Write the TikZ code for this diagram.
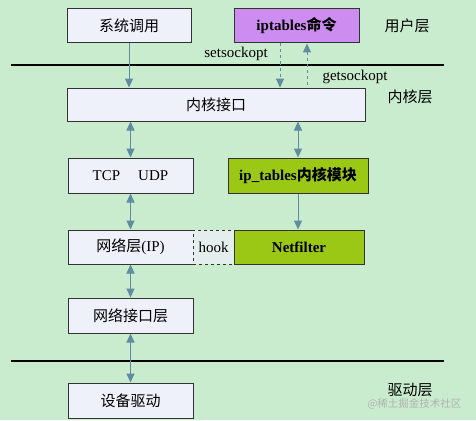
\documentclass[tikz,border=0pt]{standalone}
\usepackage{fontspec}
\setmainfont{Liberation Serif}
\newfontfamily\cjk{Noto Sans CJK SC}
\usetikzlibrary{arrows.meta}
\tikzset{>={Triangle[length=9pt,width=8pt]}}
\definecolor{bggreen}{RGB}{200,236,205}
\definecolor{boxfill}{RGB}{238,241,250}
\definecolor{hookfill}{RGB}{228,238,236}
\definecolor{cmdpurple}{RGB}{204,140,240}
\definecolor{modgreen}{RGB}{155,200,20}
\definecolor{arrowblue}{RGB}{95,140,160}
\tikzset{
  box/.style={draw=black!80, fill=boxfill, line width=1pt, inner sep=0pt,
    minimum width=125pt, minimum height=34pt, font=\fontsize{15}{18}\selectfont},
  flow/.style={draw=arrowblue, line width=1pt},
  layer/.style={font=\fontsize{15}{18}\selectfont\cjk},
  call/.style={font=\fontsize{15}{18}\selectfont},
  sep/.style={line width=2.2pt}
}

\begin{document}
\begin{tikzpicture}[x=1pt,y=-1pt]
      % background
      \fill[bggreen] (0,0) rectangle (476,420);
      % separators
      \coordinate (ua) at (11,65);
      \coordinate (ub) at (444,65);
      \coordinate (da) at (11,361);
      \coordinate (db) at (444,361);
      \draw[sep] (ua) -- (ub);
      \draw[sep] (da) -- (db);
      % boxes
      \node[box, minimum width=124pt] (sys) at (129,26) {\cjk 系统调用};
      \node[box, fill=cmdpurple] (ipt) at (296.5,26) {\bfseries iptables{\cjk 命令}};
      \node[box, minimum width=298pt, minimum height=33pt] (kif) at (216,104.5) {\cjk 内核接口};
      \node[box, minimum height=35pt] (tcp) at (130.5,175.5) {TCP\hspace{1.2em}UDP};
      \node[box, fill=modgreen, minimum width=140pt, minimum height=35pt] (ipk) at (298,175.5) {\bfseries ip\_tables{\cjk 内核模块}};
      \node[box] (ipl) at (130.5,247) {{\cjk 网络层}(IP)};
      \node[box, fill=hookfill, dashed, minimum width=41pt] (hook) at (213.5,247) {hook};
      \node[box, fill=modgreen, minimum width=130pt] (nf) at (299,247) {\bfseries Netfilter};
      \node[box, minimum height=35pt] (nil) at (130.5,315.5) {\cjk 网络接口层};
      \node[box, minimum height=35pt] (drv) at (130.5,400.5) {\cjk 设备驱动};
      % layer labels
      \node[layer] (user) at (407,26) {用户层};
      \node[layer] (kern) at (410,97) {内核层};
      \node[layer] (drvl) at (410,390) {驱动层};
      \node[call] (setl) at (236,54) {setsockopt};
      \node[call] (getl) at (355,77) {getsockopt};
      % connectors
      \draw[flow,->] (sys.south) -- (sys.south |- kif.north);
      \draw[flow,dashed,->] ([xshift=-16.5pt]ipt.south) -- ([xshift=-16.5pt]ipt.south |- kif.north);
      \draw[flow,dashed,<-] ([xshift=10.5pt]ipt.south) -- ([xshift=10.5pt]ipt.south |- kif.north);
      \draw[flow,<->] (tcp.north |- kif.south) -- (tcp.north);
      \draw[flow,<->] (ipk.north |- kif.south) -- (ipk.north);
      \draw[flow,->] (ipk.south) -- (ipk.south |- nf.north);
      \draw[flow,<->] (tcp.south) -- (ipl.north);
      \draw[flow,<->] (ipl.south) -- (nil.north);
      \draw[flow,<->] (nil.south) -- (drv.north);
      % watermark
      \node[font=\fontsize{10.5}{12}\selectfont\cjk, text=black!30, anchor=east] (mark) at (465,404) {@稀土掘金技术社区};
\end{tikzpicture}
\end{document}
